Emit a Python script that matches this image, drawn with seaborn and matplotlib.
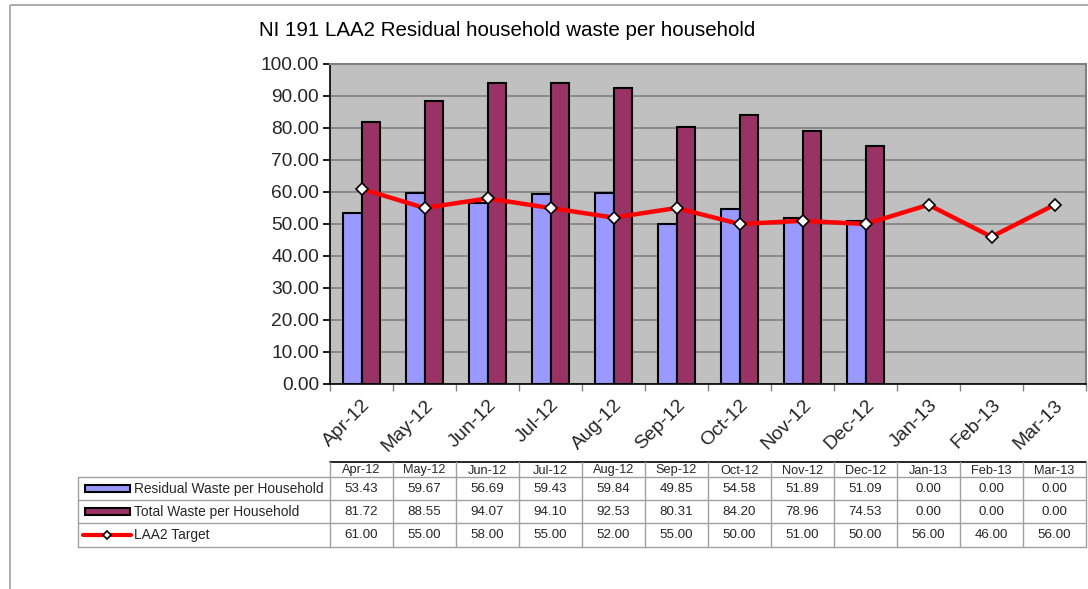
import numpy as np
import pandas as pd
import matplotlib
matplotlib.use("Agg")
import matplotlib.pyplot as plt
import seaborn as sns
from matplotlib.patches import Rectangle
from matplotlib.lines import Line2D

months = ["Apr-12", "May-12", "Jun-12", "Jul-12", "Aug-12", "Sep-12",
          "Oct-12", "Nov-12", "Dec-12", "Jan-13", "Feb-13", "Mar-13"]
residual = [53.43, 59.67, 56.69, 59.43, 59.84, 49.85, 54.58, 51.89, 51.09, 0.00, 0.00, 0.00]
total = [81.72, 88.55, 94.07, 94.10, 92.53, 80.31, 84.20, 78.96, 74.53, 0.00, 0.00, 0.00]
target = [61.00, 55.00, 58.00, 55.00, 52.00, 55.00, 50.00, 51.00, 50.00, 56.00, 46.00, 56.00]
series_names = ["Residual Waste per Household", "Total Waste per Household", "LAA2 Target"]
title = "NI 191 LAA2 Residual household waste per household"
yticks = [0, 10, 20, 30, 40, 50, 60, 70, 80, 90, 100]

c_res = "#9999FF"
c_tot = "#993366"
c_tgt = "#FF0000"
FONT = "Liberation Sans"

sns.set_theme(style="white")
plt.rcParams['font.family'] = [FONT, 'DejaVu Sans']

W, H = 1088, 589
fig = plt.figure(figsize=(W / 100, H / 100), dpi=100)

# main axes in pixel layout
x0, x1, y0, y1 = 330, 1086, 64, 384
ax = fig.add_axes([x0 / W, 1 - y1 / H, (x1 - x0) / W, (y1 - y0) / H])
ax.set_facecolor("#C0C0C0")

df = pd.DataFrame({
    "month": months * 2,
    "value": residual + total,
    "series": [series_names[0]] * len(months) + [series_names[1]] * len(months),
})
sns.barplot(data=df, x="month", y="value", hue="series", order=months,
            hue_order=series_names[:2], palette=[c_res, c_tot],
            width=0.6, gap=0, edgecolor="black", linewidth=1.5,
            saturation=1, legend=False, ax=ax, zorder=3)
for p in ax.patches:
    if p.get_height() == 0:
        p.set_linewidth(0)
sns.lineplot(x=np.arange(len(months)), y=target, color=c_tgt, linewidth=3.2,
             marker="D", markersize=6, markerfacecolor="white",
             markeredgecolor="black", markeredgewidth=1.2, ax=ax, zorder=5)

ax.set_xlim(-0.5, len(months) - 0.5)
ax.set_ylim(0, 100)
ax.set_yticks(yticks)
ax.set_yticklabels([f"{v:.2f}" for v in yticks], fontsize=13.8)
ax.yaxis.grid(True, color="#808080", linewidth=1.2, zorder=0)
ax.set_axisbelow(True)
ax.set_xlabel("")
ax.set_ylabel("")
ax.set_xticks(np.arange(len(months)))
ax.set_xticklabels(months, rotation=45, ha="right", rotation_mode="anchor", fontsize=14)
ax.tick_params(axis="x", length=0, pad=9)
ax.set_xticks(np.arange(len(months) + 1) - 0.5, minor=True)
ax.tick_params(axis="x", which="minor", length=5, color="#808080", direction="out", bottom=True)
ax.tick_params(axis="y", length=5, color="black", direction="out", left=True, pad=3)
for s in ["top", "right"]:
    ax.spines[s].set_color("#808080")
    ax.spines[s].set_linewidth(1.5)
for s in ["left", "bottom"]:
    ax.spines[s].set_color("black")
    ax.spines[s].set_linewidth(1.2)

fig.text(507 / W, 1 - 31 / H, title, ha="center", va="center", fontsize=14.8, color="black")

# overlay for table and border (pixel coordinates)
ov = fig.add_axes([0, 0, 1, 1], zorder=-1)
ov.set_xlim(0, W)
ov.set_ylim(H, 0)
ov.axis("off")
ov.add_patch(Rectangle((10, 5), W + 20, H + 20, fill=False, edgecolor="#A0A0A0", linewidth=1.2))

ov2 = fig.add_axes([0, 0, 1, 1])
ov2.set_xlim(0, W)
ov2.set_ylim(H, 0)
ov2.axis("off")

n = len(months)
colw = (x1 - x0) / n
xs = [x0 + i * colw for i in range(n + 1)]
rows_y = [462, 477, 500, 523, 547]
left_x = 78
gc = "#A0A0A0"
ov2.plot([x0, x1], [rows_y[0], rows_y[0]], color="black", linewidth=1.2)
for yy in rows_y[1:]:
    ov2.plot([left_x, x1], [yy, yy], color=gc, linewidth=1.0)
for i, xx in enumerate(xs):
    ov2.plot([xx, xx], [rows_y[0], rows_y[-1]], color=gc, linewidth=1.0)
ov2.plot([left_x, left_x], [rows_y[1], rows_y[-1]], color=gc, linewidth=1.0)

for i, m in enumerate(months):
    ov2.text((xs[i] + xs[i + 1]) / 2, (rows_y[0] + rows_y[1]) / 2 + 1, m,
             ha="center", va="center", fontsize=9.2)
all_vals = [residual, total, target]
for r, vals in enumerate(all_vals):
    yc = (rows_y[r + 1] + rows_y[r + 2]) / 2 + 0.5
    for i, v in enumerate(vals):
        ov2.text((xs[i] + xs[i + 1]) / 2, yc, f"{v:.2f}", ha="center", va="center", fontsize=9.6)
    ov2.text(134, yc, series_names[r], ha="left", va="center", fontsize=9.9)

for r, col in enumerate([c_res, c_tot]):
    yc = (rows_y[r + 1] + rows_y[r + 2]) / 2
    ov2.add_patch(Rectangle((85, yc - 3.5), 45, 7, facecolor=col, edgecolor="black", linewidth=1.5))
yc = (rows_y[3] + rows_y[4]) / 2
ov2.add_line(Line2D([83, 131], [yc, yc], color=c_tgt, linewidth=3))
ov2.add_line(Line2D([107], [yc], marker="D", markersize=4.5, markerfacecolor="white",
                    markeredgecolor="black", markeredgewidth=1.2, linestyle="none"))

fig.savefig("out.png", dpi=100)
